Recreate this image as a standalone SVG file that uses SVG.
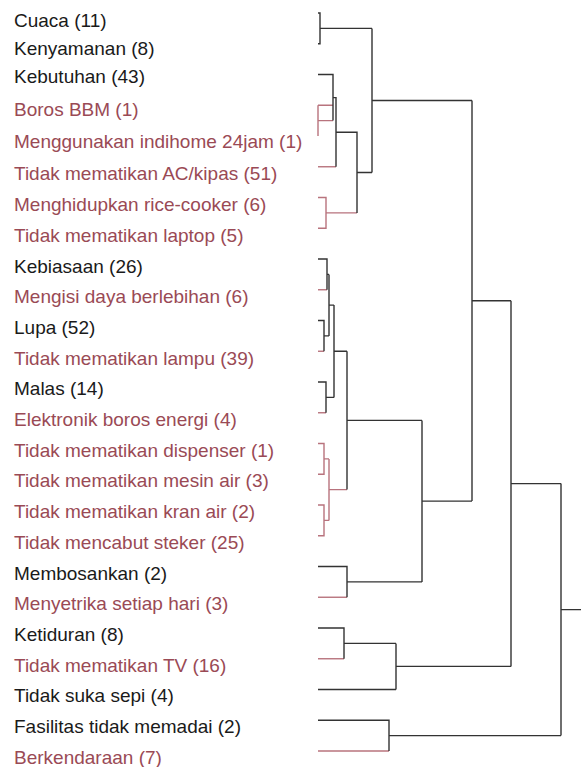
<svg xmlns="http://www.w3.org/2000/svg" width="581" height="767" viewBox="0 0 581 767">
<style>
text{font-family:"Liberation Sans",Arial,sans-serif;font-size:19px}
.k{fill:#1a1a1a}
.r{fill:#9a4a55}
.lk{fill:none;stroke:#333;stroke-width:1.4}
.lr{fill:none;stroke:#b8737d;stroke-width:1.4}
</style>
<rect width="581" height="767" fill="#fff"/>
<g id="labels">
<g id="n0"><text class="k" x="14" y="27">Cuaca (11)</text></g>
<g id="n1"><text class="k" x="14" y="55">Kenyamanan (8)</text></g>
<g id="n2"><text class="k" x="14" y="83">Kebutuhan (43)</text></g>
<g id="n3"><text class="r" x="14" y="115.5">Boros BBM (1)</text></g>
<g id="n4"><text class="r" x="14" y="147.5">Menggunakan indihome 24jam (1)</text></g>
<g id="n5"><text class="r" x="14" y="179.5">Tidak mematikan AC/kipas (51)</text></g>
<g id="n6"><text class="r" x="14" y="211.1">Menghidupkan rice-cooker (6)</text></g>
<g id="n7"><text class="r" x="14" y="241.8">Tidak mematikan laptop (5)</text></g>
<g id="n8"><text class="k" x="14" y="272.5">Kebiasaan (26)</text></g>
<g id="n9"><text class="r" x="14" y="303.2">Mengisi daya berlebihan (6)</text></g>
<g id="n10"><text class="k" x="14" y="333.9">Lupa (52)</text></g>
<g id="n11"><text class="r" x="14" y="364.6">Tidak mematikan lampu (39)</text></g>
<g id="n12"><text class="k" x="14" y="395.3">Malas (14)</text></g>
<g id="n13"><text class="r" x="14" y="426">Elektronik boros energi (4)</text></g>
<g id="n14"><text class="r" x="14" y="456.7">Tidak mematikan dispenser (1)</text></g>
<g id="n15"><text class="r" x="14" y="487.4">Tidak mematikan mesin air (3)</text></g>
<g id="n16"><text class="r" x="14" y="518.1">Tidak mematikan kran air (2)</text></g>
<g id="n17"><text class="r" x="14" y="548.8">Tidak mencabut steker (25)</text></g>
<g id="n18"><text class="k" x="14" y="579.5">Membosankan (2)</text></g>
<g id="n19"><text class="r" x="14" y="610.2">Menyetrika setiap hari (3)</text></g>
<g id="n20"><text class="k" x="14" y="640.9">Ketiduran (8)</text></g>
<g id="n21"><text class="r" x="14" y="671.6">Tidak mematikan TV (16)</text></g>
<g id="n22"><text class="k" x="14" y="702.3">Tidak suka sepi (4)</text></g>
<g id="n23"><text class="k" x="14" y="733">Fasilitas tidak memadai (2)</text></g>
<g id="n24"><text class="r" x="14" y="763.7">Berkendaraan (7)</text></g>
</g>
<g id="connectors">
<path class="lr" d="M318 105.25H333 M318 105.25V136 M318 120.6H333"/>
<path class="lr" d="M318 166.75H336"/>
<path class="lr" d="M318 197.5H326V228.25H318 M326 212.9H357"/>
<path class="lr" d="M318 289.75H327"/>
<path class="lr" d="M318 351.25H324"/>
<path class="lr" d="M318 412.75H326"/>
<path class="lr" d="M318 443.5H324V474.25H318 M324 458.9H329 M318 505H324V535.75H318 M324 520.4H329 M329 458.9V520.4 M329 489.6H347"/>
<path class="lr" d="M318 597.25H347"/>
<path class="lr" d="M318 658.75H344"/>
<path class="lr" d="M318 751H389"/>
<path class="lk" d="M318 13H320V43.75H318 M320 28.4H372"/>
<path class="lk" d="M318 74.5H333V120.6 M333 97.6H336V166.75 M336 132.2H357V212.9 M357 172.5H372 M372 28.4V172.5 M372 100.5H472"/>
<path class="lk" d="M318 259H327V289.75 M327 274.4H329 M318 320.5H324V351.25 M324 335.9H329 M329 274.4V335.9 M329 305.1H334 M318 382H326V412.75 M326 397.4H334 M334 305.1V397.4 M334 351.2H347 M347 351.2V489.6 M347 420.4H422"/>
<path class="lk" d="M318 566.5H347V597.25 M347 581.9H422 M422 420.4V581.9 M422 501.1H472 M472 100.5V501.1 M472 300.8H511"/>
<path class="lk" d="M318 628H344V658.75 M344 643.4H396 M318 689.5H396 M396 643.4V689.5 M396 666.4H511 M511 300.8V666.4 M511 483.6H561"/>
<path class="lk" d="M318 720.25H389V751 M389 735.6H561 M561 483.6V735.6 M561 609.6H581"/>
</g>
</svg>
